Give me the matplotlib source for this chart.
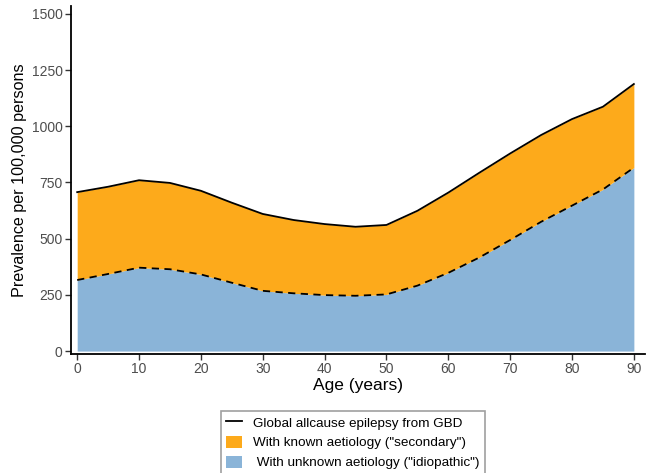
import numpy as np
import matplotlib
matplotlib.use("Agg")
import matplotlib.pyplot as plt
from matplotlib.lines import Line2D
from matplotlib.patches import Patch

plt.rcParams['font.family'] = ['Liberation Sans', 'DejaVu Sans']

ages = [0, 5, 10, 15, 20, 25, 30, 35, 40, 45, 50, 55, 60, 65, 70, 75, 80, 85, 90]
total = [707, 731, 760, 748, 713, 660, 610, 583, 565, 553, 561, 624, 705, 793, 879, 961, 1032, 1087, 1188]
idiopathic = [316, 343, 371, 364, 341, 304, 268, 257, 249, 246, 252, 291, 348, 416, 494, 575, 647, 719, 816]

yticks = [0, 250, 500, 750, 1000, 1250, 1500]
xticks = [0, 10, 20, 30, 40, 50, 60, 70, 80, 90]

orange = "#FDAA1B"
blue = "#8AB4D8"

fig = plt.figure(figsize=(6.54, 4.73), dpi=100)
ax = fig.add_axes([71/654, 1-354/473, (645-71)/654, (354-6)/473])

ax.fill_between(ages, 0, idiopathic, color=blue, lw=0)
ax.fill_between(ages, idiopathic, total, color=orange, lw=0)
ax.plot(ages, total, color="black", lw=1.3)
ax.plot(ages, idiopathic, color="black", lw=1.3, ls=(0, (4, 3)))

ax.set_xlim(-1, 91.8)
ax.set_ylim(-13, 1535)
ax.set_xticks(xticks)
ax.set_yticks(yticks)
ax.tick_params(direction="out", length=4, width=1, colors="#333333", labelcolor="#4d4d4d",
               labelsize=10, pad=2)
for s in ["top", "right"]:
    ax.spines[s].set_visible(False)
for s in ["left", "bottom"]:
    ax.spines[s].set_linewidth(1.3)
ax.set_xlabel("Age (years)", fontsize=12.5, labelpad=1)
ax.set_ylabel("Prevalence per 100,000 persons", fontsize=11.6, labelpad=3)

handles = [Line2D([0], [0], color="black", lw=1.3),
           Patch(facecolor=orange, edgecolor="none"),
           Patch(facecolor=blue, edgecolor="none")]
labels = ["Global allcause epilepsy from GBD",
          'With known aetiology ("secondary")',
          ' With unknown aetiology ("idiopathic")']
leg = fig.legend(handles, labels, loc="upper center", bbox_to_anchor=(353/654, 1-404/473),
                 fontsize=9.7, frameon=True, fancybox=False, handlelength=1.2,
                 handleheight=1.0, labelspacing=0.45, borderpad=0.4, handletextpad=0.8)
leg.get_frame().set_edgecolor("#888888")
leg.get_frame().set_linewidth(1.2)

fig.savefig("out.png", dpi=100)
